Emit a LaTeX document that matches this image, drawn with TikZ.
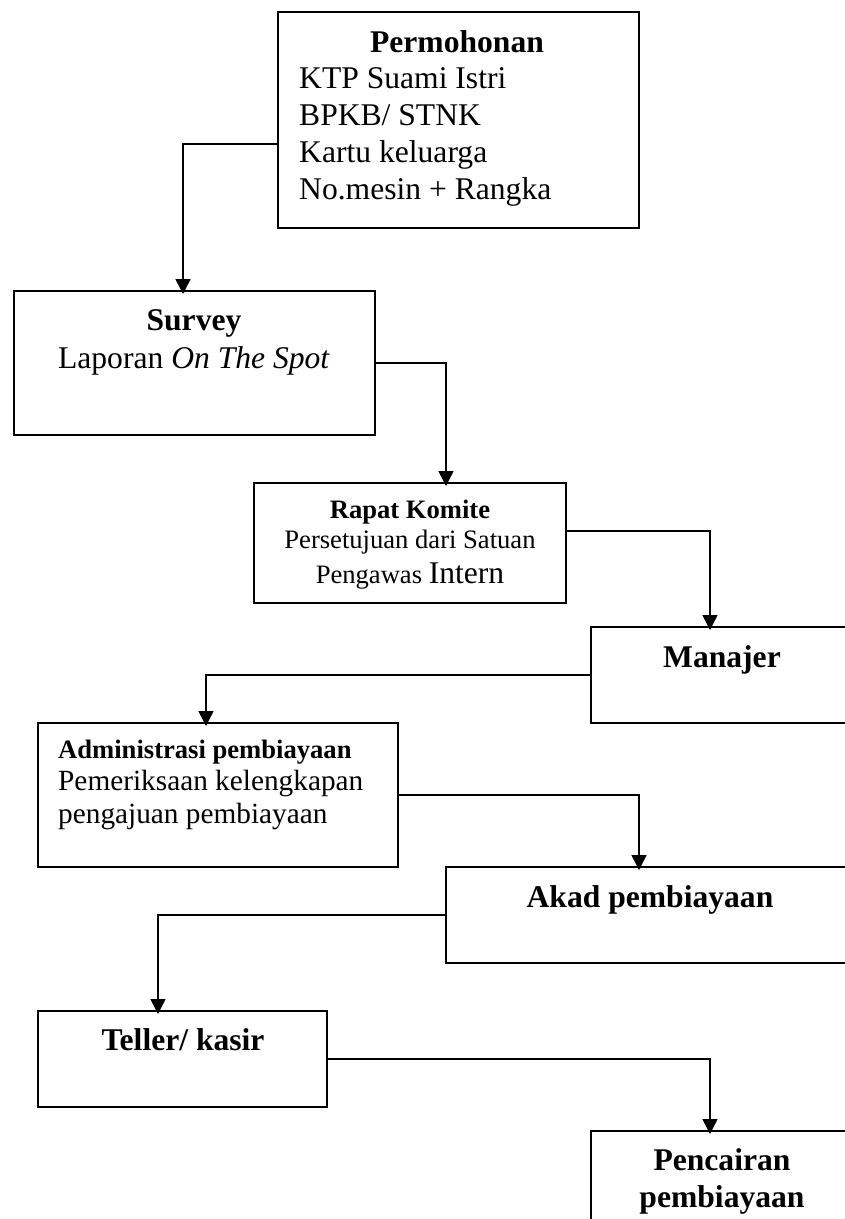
\documentclass[tikz,border=0pt]{standalone}
\usepackage{fontspec}
\setmainfont{Liberation Serif}
\usetikzlibrary{arrows.meta}
\tikzset{
  box/.style={draw, line width=1.6pt, inner sep=0pt, outer sep=0pt, anchor=center},
  conn/.style={line width=1.5pt, -{Triangle[length=15pt,width=15pt]}, shorten >=-3pt},
  txt/.style={inner sep=0pt, anchor=base},
  txtl/.style={inner sep=0pt, anchor=base west},
  big/.style={font=\fontsize{31.6}{37}\selectfont},
  mid/.style={font=\fontsize{29.3}{34}\selectfont},
  small/.style={font=\fontsize{26.6}{31}\selectfont}
}
\begin{document}
\begin{tikzpicture}[x=1pt,y=-1pt]
\clip (0,0) rectangle (845,1219);
\fill[white] (0,0) rectangle (845,1219);

% boxes
\node[box, minimum width=361pt, minimum height=216pt] (perm) at (458.5,120) {};
\node[box, minimum width=361pt, minimum height=144pt] (survey) at (194.5,363) {};
\node[box, minimum width=312pt, minimum height=120pt] (rapat) at (410,543) {};
\node[box, minimum width=262pt, minimum height=96pt] (manajer) at (722,675) {};
\node[box, minimum width=360pt, minimum height=144pt] (admin) at (218,795) {};
\node[box, minimum width=407pt, minimum height=96pt] (akad) at (649.5,915) {};
\node[box, minimum width=289pt, minimum height=96pt] (teller) at (182.5,1059) {};
\node[box, minimum width=262pt, minimum height=129pt] (cair) at (722,1195.5) {};

% texts
\node[txt, big] (permT) at (457,52) {\bfseries Permohonan};
\node[txtl, big] (permA) at (299,88) {KTP Suami Istri};
\node[txtl, big] (permB) at (299,125) {BPKB/ STNK};
\node[txtl, big] (permC) at (299,162) {Kartu keluarga};
\node[txtl, big] (permD) at (299,199) {No.mesin + Rangka};

\node[txt, big] (survT) at (194,330) {\bfseries Survey};
\node[txt, big] (survA) at (194,368) {Laporan \textit{On The Spot}};

\node[txt, small] (rapT) at (410,518) {\bfseries Rapat Komite};
\node[txt, small] (rapA) at (410,548) {Persetujuan dari Satuan};
\node[txt, small] (rapB) at (410,583) {Pengawas {\fontsize{31.6}{37}\selectfont Intern}};

\node[txt, big] (manT) at (722,667) {\bfseries Manajer};

\node[txtl, small] (admT) at (58,758) {\bfseries Administrasi pembiayaan};
\node[txtl, mid] (admA) at (58,790) {Pemeriksaan kelengkapan};
\node[txtl, mid] (admB) at (58,823) {pengajuan pembiayaan};

\node[txt, big] (akadT) at (650,907) {\bfseries Akad pembiayaan};

\node[txt, big] (telT) at (183,1050) {\bfseries Teller/ kasir};

\node[txt, big] (cairA) at (722,1170) {\bfseries Pencairan};
\node[txt, big] (cairB) at (722,1207) {\bfseries pembiayaan};

% connectors
\draw[conn] ([yshift=-24pt]perm.west) -| ([xshift=-11.5pt]survey.north);
\draw[conn] (survey.east) -| ([xshift=36pt]rapat.north);
\draw[conn] ([yshift=12pt]rapat.east) -| ([xshift=-12pt]manajer.north);
\draw[conn] (manajer.west) -| ([xshift=-12pt]admin.north);
\draw[conn] (admin.east) -| ([xshift=-10.5pt]akad.north);
\draw[conn] (akad.west) -| ([xshift=-24.5pt]teller.north);
\draw[conn] (teller.east) -| ([xshift=-12pt]cair.north);
\end{tikzpicture}
\end{document}
